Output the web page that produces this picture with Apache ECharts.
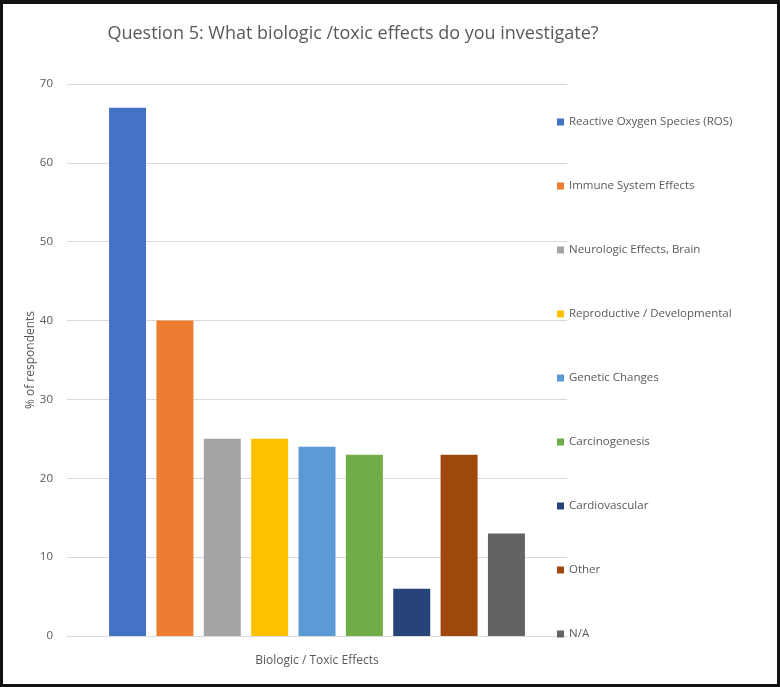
<!DOCTYPE html>
<html>
<head>
<meta charset="utf-8">
<script src="https://cdn.jsdelivr.net/npm/echarts@6/dist/echarts.min.js"></script>
<style>
html,body{margin:0;padding:0;background:#fff;}
#frame{width:780px;height:687px;box-sizing:border-box;border:3px solid #111;border-top-width:4px;background:#fff;position:relative;}
#chart{position:absolute;left:-3px;top:-4px;width:780px;height:687px;}
</style>
</head>
<body>
<div id="frame"><div id="chart"></div></div>
<script>
const categories = ['Biologic / Toxic Effects'];
const seriesNames = [
  'Reactive Oxygen Species (ROS)',
  'Immune System Effects',
  'Neurologic Effects, Brain',
  'Reproductive / Developmental',
  'Genetic Changes',
  'Carcinogenesis',
  'Cardiovascular',
  'Other',
  'N/A'
];
const seriesValues = [67, 40, 25, 25, 24, 23, 6, 23, 13];
const seriesColors = ['#4472C4','#ED7D31','#A5A5A5','#FFC000','#5B9BD5','#70AD47','#264478','#9E480E','#636363'];
const yTicks = [0, 10, 20, 30, 40, 50, 60, 70];

const chart = echarts.init(document.getElementById('chart'), null, {renderer:'canvas'});
const font = 'Open Sans, Noto Sans, sans-serif';
chart.setOption({
  animation: false,
  backgroundColor: 'transparent',
  title: {
    text: 'Question 5: What biologic /toxic effects do you investigate?',
    left: 348, top: 20, textAlign: 'center',
    textStyle: {fontFamily: font, fontSize: 18, fontWeight: 'normal', color: '#595959'}
  },
  legend: {
    orient: 'vertical',
    left: 552, top: 111,
    itemWidth: 7, itemHeight: 7, itemGap: 52,
    icon: 'rect',
    textStyle: {fontFamily: font, fontSize: 11.5, color: '#595959'},
    data: seriesNames
  },
  grid: {left: 67, right: 213, top: 84, bottom: 51, containLabel: false},
  xAxis: {
    type: 'category',
    data: categories,
    name: 'Biologic / Toxic Effects',
    nameLocation: 'middle',
    nameGap: 19,
    nameTextStyle: {fontFamily: font, fontSize: 12, color: '#595959'},
    axisLine: {show: true, lineStyle: {color: '#d9d9d9', width: 1}},
    axisTick: {show: false},
    axisLabel: {show: false}
  },
  yAxis: {
    type: 'value',
    min: yTicks[0], max: yTicks[yTicks.length-1], interval: 10,
    name: '% of respondents',
    nameLocation: 'middle',
    nameGap: 30,
    nameMoveOverlap: false,
    nameTextStyle: {fontFamily: font, fontSize: 12, color: '#595959'},
    axisLine: {show: false},
    axisTick: {show: false},
    axisLabel: {fontFamily: font, fontSize: 11.5, color: '#595959', margin: 14},
    splitLine: {lineStyle: {color: '#d9d9d9', width: 1}}
  },
  series: seriesNames.map((n, i) => ({
    name: n,
    type: 'bar',
    data: [seriesValues[i]],
    barWidth: 37,
    barGap: '28%',
    itemStyle: {color: seriesColors[i]}
  }))
});
</script>
</body>
</html>
